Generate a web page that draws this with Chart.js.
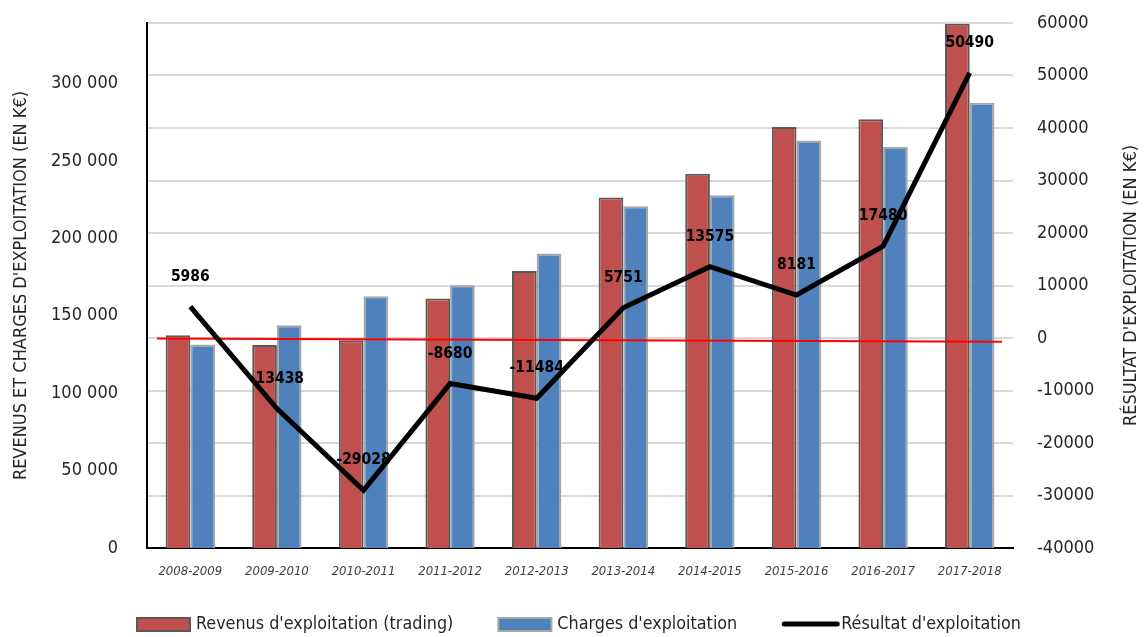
<!DOCTYPE html>
<html>
<head>
<meta charset="utf-8">
<script src="https://cdn.jsdelivr.net/npm/chart.js@4.4.1/dist/chart.umd.min.js"></script>
<style>
  html, body { margin: 0; padding: 0; background: #fff; }
  #wrap { width: 1144px; height: 637px; }
</style>
</head>
<body>
<div id="wrap"><canvas id="chart" width="1144" height="637"></canvas></div>
<script>
const categories = ['2008-2009', '2009-2010', '2010-2011', '2011-2012', '2012-2013',
                    '2013-2014', '2014-2015', '2015-2016', '2016-2017', '2017-2018'];
const revenus = [137400, 131000, 134200, 161100, 178900, 226300, 241700, 271800, 276800, 338500];
const charges = [131400, 143900, 162600, 169700, 190100, 220600, 227700, 263200, 258900, 287500];
const resultat = [5986, -13438, -29028, -8680, -11484, 5751, 13575, 8181, 17480, 50490];
const leftTicks = [0, 50000, 100000, 150000, 200000, 250000, 300000];
const rightTicks = [-40000, -30000, -20000, -10000, 0, 10000, 20000, 30000, 40000, 50000, 60000];
const redLine = [-100, -700]; // red reference line, start / end, on the right axis

const FONT = "'Liberation Sans Narrow', 'DejaVu Sans Condensed', 'Arial Narrow', sans-serif";
const TEXT = '#262626';

// right axis title, read bottom to top
const rightTitle = {
  id: 'rightTitle',
  afterDraw(chart) {
    const ctx = chart.ctx;
    const area = chart.chartArea;
    ctx.save();
    ctx.translate(1131, (area.top + area.bottom) / 2);
    ctx.rotate(-Math.PI / 2);
    ctx.font = '18px ' + FONT;
    ctx.fillStyle = TEXT;
    ctx.textAlign = 'center';
    ctx.textBaseline = 'middle';
    ctx.fillText("RÉSULTAT D'EXPLOITATION (EN K€)", 0, 0);
    ctx.restore();
  }
};

// legend along the bottom, items laid out one after the other
const bottomLegend = {
  id: 'bottomLegend',
  afterDraw(chart) {
    const ctx = chart.ctx;
    const y = 624;
    let x = 137;
    ctx.save();
    ctx.font = '17.8px ' + FONT;
    ctx.textBaseline = 'middle';
    ctx.textAlign = 'left';
    chart.data.datasets.forEach((ds) => {
      if (ds.type === 'line') {
        ctx.strokeStyle = ds.borderColor;
        ctx.lineWidth = 5;
        ctx.lineCap = 'round';
        ctx.beginPath();
        ctx.moveTo(x + 2, y);
        ctx.lineTo(x + 55, y);
        ctx.stroke();
      } else {
        ctx.fillStyle = ds.backgroundColor;
        ctx.fillRect(x, y - 6, 53, 13);
        ctx.strokeStyle = ds.borderColor;
        ctx.lineWidth = 2;
        ctx.strokeRect(x, y - 6, 53, 13);
      }
      x += 59;
      ctx.fillStyle = TEXT;
      ctx.fillText(ds.label, x, y);
      x += ctx.measureText(ds.label).width + 45;
    });
    ctx.restore();
  }
};

// red line under the black line, and value labels above the points
const extras = {
  id: 'extras',
  beforeDatasetDraw(chart, args) {
    if (args.index !== 2) return;
    const ctx = chart.ctx;
    const y1 = chart.scales.y1;
    const area = chart.chartArea;
    ctx.save();
    ctx.strokeStyle = '#ff0000';
    ctx.lineWidth = 2;
    ctx.beginPath();
    ctx.moveTo(area.left + 10, y1.getPixelForValue(redLine[0]));
    ctx.lineTo(area.right - 11, y1.getPixelForValue(redLine[1]));
    ctx.stroke();
    ctx.restore();
  },
  afterDatasetsDraw(chart) {
    const ctx = chart.ctx;
    const meta = chart.getDatasetMeta(2);
    ctx.save();
    ctx.font = 'bold 15.5px ' + FONT;
    ctx.fillStyle = '#000';
    ctx.textAlign = 'center';
    ctx.textBaseline = 'middle';
    meta.data.forEach((pt, i) => {
      ctx.fillText(String(resultat[i]), pt.x, pt.y - 30);
    });
    ctx.restore();
  }
};

new Chart(document.getElementById('chart'), {
  data: {
    labels: categories,
    datasets: [
      {
        type: 'bar',
        label: "Revenus d'exploitation (trading)",
        data: revenus,
        yAxisID: 'y',
        backgroundColor: '#c0504d',
        borderColor: '#595959',
        borderWidth: 2,
        borderSkipped: 'bottom',
        order: 1
      },
      {
        type: 'bar',
        label: "Charges d'exploitation",
        data: charges,
        yAxisID: 'y',
        backgroundColor: '#4f81bd',
        borderColor: '#a6a6a6',
        borderWidth: 2,
        borderSkipped: 'bottom',
        order: 1
      },
      {
        type: 'line',
        label: "Résultat d'exploitation",
        data: resultat,
        yAxisID: 'y1',
        borderColor: '#000',
        backgroundColor: '#000',
        borderWidth: 5,
        pointRadius: 0,
        tension: 0,
        order: 0
      }
    ]
  },
  options: {
    responsive: false,
    animation: false,
    layout: { padding: { top: 23, left: 0, right: 0, bottom: 45 } },
    datasets: {
      bar: { categoryPercentage: 0.57, barPercentage: 1.0 }
    },
    plugins: {
      tooltip: { enabled: false },
      legend: { display: false }
    },
    scales: {
      x: {
        grid: { display: false },
        border: { display: true, color: '#000', width: 2 },
        ticks: {
          color: '#404040',
          font: { family: FONT, size: 13, style: 'italic' },
          maxRotation: 0,
          padding: 8
        },
        afterFit(scale) { scale.height = 44; }
      },
      y: {
        position: 'left',
        min: 0,
        max: 339000,
        afterBuildTicks(scale) { scale.ticks = leftTicks.map(v => ({ value: v })); },
        grid: { display: false, drawTicks: false },
        border: { display: true, color: '#000', width: 2 },
        ticks: {
          color: TEXT,
          font: { family: FONT, size: 18 },
          padding: 29,
          callback: v => v === 0 ? '0' : String(v).replace(/\B(?=(\d{3})+(?!\d))/g, ' ')
        },
        title: {
          display: true,
          text: "REVENUS ET CHARGES D'EXPLOITATION (EN K€)",
          color: TEXT,
          font: { family: FONT, size: 18 },
          padding: { top: 11, bottom: 0 }
        },
        afterFit(scale) {
          scale.width = 147;
          scale.paddingTop = 0;
          scale.paddingBottom = 0;
        }
      },
      y1: {
        position: 'right',
        min: -40000,
        max: 60000,
        afterBuildTicks(scale) { scale.ticks = rightTicks.map(v => ({ value: v })); },
        grid: { color: '#d9d9d9', lineWidth: 2, drawTicks: false },
        border: { display: false },
        ticks: {
          color: TEXT,
          font: { family: FONT, size: 18 },
          padding: 24,
          callback: v => String(v)
        },
        afterFit(scale) {
          scale.width = 131;
          scale.paddingTop = 0;
          scale.paddingBottom = 0;
        }
      }
    }
  },
  plugins: [extras, rightTitle, bottomLegend]
});
</script>
</body>
</html>
